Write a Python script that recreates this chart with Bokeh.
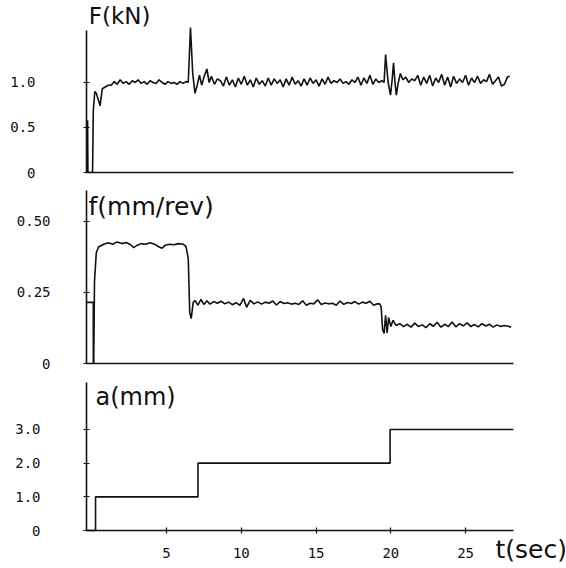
from bokeh.plotting import figure
from bokeh.layouts import column
from bokeh.models import Range1d, FixedTicker, Label
from bokeh.embed import file_html
from bokeh.resources import INLINE

# ---------------- data ----------------
# Cutting force F (kN) vs time t (sec)
t_F = [-0.35, -0.30, -0.28, -0.26, 0.05, 0.10, 0.20, 0.30, 0.45, 0.55, 0.70, 0.90, 1.10,
       1.3, 1.5, 1.7, 1.9, 2.1, 2.3, 2.5, 2.7, 2.9, 3.1, 3.3, 3.5, 3.7, 3.9, 4.1, 4.3,
       4.5, 4.7, 4.9, 5.1, 5.3, 5.5, 5.7, 5.9, 6.1, 6.3, 6.45, 6.6, 6.75, 6.9, 7.05,
       7.2, 7.35, 7.5, 7.7, 7.85, 8.0, 8.2, 8.4, 8.6, 8.8, 9.0, 9.2, 9.4, 9.6, 9.8,
       10.0, 10.2, 10.4, 10.6, 10.8, 11.0, 11.2, 11.4, 11.6, 11.8, 12.0, 12.2, 12.4,
       12.6, 12.8, 13.0, 13.2, 13.4, 13.6, 13.8, 14.0, 14.2, 14.4, 14.6, 14.8, 15.0,
       15.2, 15.4, 15.6, 15.8, 16.0, 16.2, 16.4, 16.6, 16.8, 17.0, 17.2, 17.4, 17.6,
       17.8, 18.0, 18.2, 18.4, 18.6, 18.8, 19.0, 19.2, 19.4, 19.55, 19.65, 19.82,
       19.98, 20.1, 20.18, 20.28, 20.37, 20.5, 20.64, 20.8, 21.0, 21.2, 21.4, 21.6,
       21.8, 22.0, 22.2, 22.4, 22.6, 22.8, 23.0, 23.2, 23.4, 23.6, 23.8, 24.0, 24.2,
       24.4, 24.6, 24.8, 25.0, 25.2, 25.4, 25.6, 25.8, 26.0, 26.2, 26.4, 26.6, 26.8,
       27.0, 27.2, 27.4, 27.6, 27.8, 27.95]
F_kN = [0.0, 0.0, 0.58, 0.0, 0.0, 0.69, 0.90, 0.88, 0.80, 0.74, 0.93, 0.95, 0.97,
        0.97, 1.01, 0.98, 1.03, 0.99, 1.01, 0.98, 1.02, 1.00, 1.03, 0.99, 1.01, 0.98,
        1.02, 1.00, 0.99, 1.03, 1.00, 0.98, 1.01, 0.99, 1.00, 0.98, 1.01, 0.99, 1.01,
        1.00, 1.61, 1.10, 0.88, 0.97, 1.08, 0.97, 1.06, 1.15, 1.00, 1.07, 0.98, 1.04,
        1.02, 0.96, 1.06, 0.97, 1.03, 0.95, 1.05, 0.98, 1.07, 0.97, 1.03, 0.95, 1.05,
        0.98, 1.02, 0.96, 1.05, 0.97, 1.04, 0.99, 1.03, 0.95, 1.04, 0.97, 1.06, 0.98,
        1.02, 0.96, 1.04, 0.97, 1.05, 0.99, 1.03, 0.96, 1.04, 0.98, 1.06, 0.99, 1.02,
        1.00, 1.04, 0.99, 1.01, 0.98, 1.03, 1.00, 1.06, 0.97, 1.05, 0.99, 1.08, 0.98,
        1.04, 1.00, 1.02, 1.00, 1.31, 1.00, 0.86, 1.05, 1.22, 1.00, 0.86, 1.00, 1.10,
        1.03, 1.06, 1.00, 1.04, 1.02, 1.08, 0.97, 1.06, 0.99, 1.08, 0.96, 1.05, 1.00,
        1.09, 0.97, 1.06, 0.95, 1.07, 0.99, 1.04, 1.00, 1.08, 0.97, 1.05, 1.00, 1.07,
        0.99, 1.03, 1.01, 1.09, 0.98, 1.02, 1.06, 0.96, 0.98, 1.06, 1.07]

# Feed f (mm/rev) vs time t (sec)
t_f = [-0.35, 0.10, 0.10, 0.13, 0.18, 0.30, 0.45, 0.8, 1.1, 1.4, 1.7, 2.0, 2.3, 2.6,
       2.8, 3.0, 3.3, 3.6, 3.9, 4.2, 4.5, 4.7, 4.9, 5.2, 5.5, 5.8, 6.1, 6.3, 6.45,
       6.55, 6.65, 6.78, 6.9, 7.1, 7.3, 7.5, 7.7, 7.9, 8.15, 8.4, 8.65, 8.9, 9.15,
       9.4, 9.65, 9.9, 10.15, 10.35, 10.6, 10.85, 11.1, 11.35, 11.6, 11.85, 12.1,
       12.35, 12.6, 12.85, 13.1, 13.35, 13.6, 13.85, 14.1, 14.35, 14.6, 14.85, 15.1,
       15.35, 15.6, 15.85, 16.1, 16.35, 16.6, 16.85, 17.1, 17.35, 17.6, 17.85, 18.1,
       18.35, 18.6, 18.85, 19.1, 19.25, 19.35, 19.45, 19.55, 19.65, 19.75, 19.85,
       20.0, 20.15, 20.35, 20.6, 20.85, 21.1, 21.35, 21.6, 21.85, 22.1, 22.35, 22.6,
       22.85, 23.1, 23.35, 23.6, 23.85, 24.1, 24.35, 24.6, 24.85, 25.1, 25.35, 25.6,
       25.85, 26.1, 26.35, 26.6, 26.85, 27.1, 27.35, 27.6, 27.85, 28.05]
f_feed = [0.215, 0.215, 0.0, 0.0, 0.29, 0.39, 0.41, 0.42, 0.425, 0.42, 0.428, 0.422,
          0.426, 0.418, 0.408, 0.415, 0.422, 0.420, 0.425, 0.420, 0.410, 0.406, 0.416,
          0.420, 0.418, 0.422, 0.420, 0.412, 0.37, 0.18, 0.158, 0.215, 0.222, 0.205,
          0.226, 0.208, 0.221, 0.209, 0.218, 0.212, 0.219, 0.210, 0.216, 0.207, 0.214,
          0.205, 0.229, 0.198, 0.222, 0.210, 0.217, 0.209, 0.216, 0.212, 0.220, 0.206,
          0.218, 0.211, 0.214, 0.209, 0.212, 0.208, 0.221, 0.205, 0.212, 0.210, 0.224,
          0.208, 0.213, 0.210, 0.212, 0.205, 0.220, 0.208, 0.215, 0.211, 0.218, 0.209,
          0.216, 0.212, 0.219, 0.205, 0.210, 0.210, 0.200, 0.120, 0.106, 0.170, 0.108,
          0.162, 0.130, 0.152, 0.134, 0.140, 0.130, 0.138, 0.128, 0.142, 0.130, 0.136,
          0.126, 0.140, 0.131, 0.145, 0.128, 0.138, 0.130, 0.146, 0.129, 0.140, 0.132,
          0.143, 0.130, 0.137, 0.129, 0.140, 0.132, 0.138, 0.128, 0.136, 0.130, 0.134,
          0.131, 0.128]

# Depth of cut a (mm) vs time t (sec)
t_a = [-0.35, 0.25, 0.25, 7.10, 7.10, 19.95, 19.95, 28.2]
a_mm = [0.0, 0.0, 1.0, 1.0, 2.0, 2.0, 3.0, 3.0]

F_ticks = [0, 0.5, 1.0]
F_tick_labels = {0: "0", 0.5: "0.5", 1.0: "1.0"}
f_ticks = [0, 0.25, 0.5]
f_tick_labels = {0: "0", 0.25: "0.25", 0.5: "0.50"}
a_ticks = [0, 1.0, 2.0, 3.0]
a_tick_labels = {0: "0", 1.0: "1.0", 2.0: "2.0", 3.0: "3.0"}
t_ticks = [5, 10, 15, 20, 25]

# ---------------- styling helpers ----------------
INK = "#111111"
W = 566
T_START, T_END = -0.355, 31.75   # frame spans axis (x=86) to the right edge
T_AXIS_END = 28.2                # where the drawn time axes stop


def make_fig(height, top, bottom, y0, y1, yaxis_top):
    p = figure(width=W, height=height, output_backend="svg", toolbar_location=None,
               x_range=Range1d(T_START, T_END), y_range=Range1d(y0, y1),
               min_border_left=86, min_border_right=0,
               min_border_top=top, min_border_bottom=bottom)
    p.xgrid.visible = False
    p.ygrid.visible = False
    p.outline_line_color = None
    p.background_fill_color = "white"
    p.border_fill_color = "white"
    for ax in (p.xaxis[0], p.yaxis[0]):
        ax.axis_line_color = INK
        ax.axis_line_width = 1.6
        ax.major_tick_line_color = INK
        ax.major_tick_line_width = 1.2
        ax.minor_tick_line_color = None
        ax.major_label_text_font = "DejaVu Sans Mono"
        ax.major_label_text_font_size = "14px"
        ax.major_label_text_color = INK
    p.xaxis.bounds = (T_START, T_AXIS_END)
    p.yaxis.bounds = (0, yaxis_top)
    p.yaxis.major_tick_in = 3
    p.yaxis.major_tick_out = 3
    return p


def hide_x_labels(p):
    p.xaxis.major_label_text_font_size = "0px"
    p.xaxis.major_label_standoff = 0
    p.xaxis.major_tick_in = 0
    p.xaxis.major_tick_out = 0
    p.xaxis.ticker = FixedTicker(ticks=[])


def label(p, text, x, y, size):
    p.add_layout(Label(x=x, y=y, text=text, text_font="DejaVu Sans",
                       text_font_size=size, text_color=INK, text_baseline="top"))


# Panel 1: F(kN)   (0 at y=172 px, 90 px per kN)
p1 = make_fig(180, 0, 8, 0, 1.911, 1.578)
hide_x_labels(p1)
p1.yaxis.ticker = FixedTicker(ticks=F_ticks)
p1.yaxis.major_label_overrides = F_tick_labels
p1.yaxis.major_label_standoff = 48
p1.line(t_F, F_kN, line_color=INK, line_width=1.6)
label(p1, "F(kN)", -0.2, 1.878, "23px")

# Panel 2: f(mm/rev)   (0 at y=363 px, 284 px per mm/rev)
p2 = make_fig(192, 8, 9, 0, 0.616, 0.609)
hide_x_labels(p2)
p2.yaxis.ticker = FixedTicker(ticks=f_ticks)
p2.yaxis.major_label_overrides = f_tick_labels
p2.yaxis.major_label_standoff = 33
p2.line(t_f, f_feed, line_color=INK, line_width=1.6)
label(p2, "f(mm/rev)", -0.22, 0.605, "25px")

# Panel 3: a(mm)   (0 at y=530 px, 33.67 px per mm)
p3 = make_fig(196, 10, 0, -1.1286, 4.396, 4.396)
p3.xaxis.fixed_location = 0
p3.xaxis.ticker = FixedTicker(ticks=t_ticks)
p3.xaxis.major_tick_in = 3
p3.xaxis.major_tick_out = 3
p3.xaxis.major_label_standoff = 14
p3.yaxis.ticker = FixedTicker(ticks=a_ticks)
p3.yaxis.major_label_overrides = a_tick_labels
p3.yaxis.major_label_standoff = 43
p3.line(t_a, a_mm, line_color=INK, line_width=1.6)
label(p3, "a(mm)", 0.25, 4.39, "24px")
label(p3, "t(sec)", 27.0, -0.12, "25px")

layout = column(p1, p2, p3, spacing=0)
open("out.html", "w").write(file_html(layout, INLINE))
